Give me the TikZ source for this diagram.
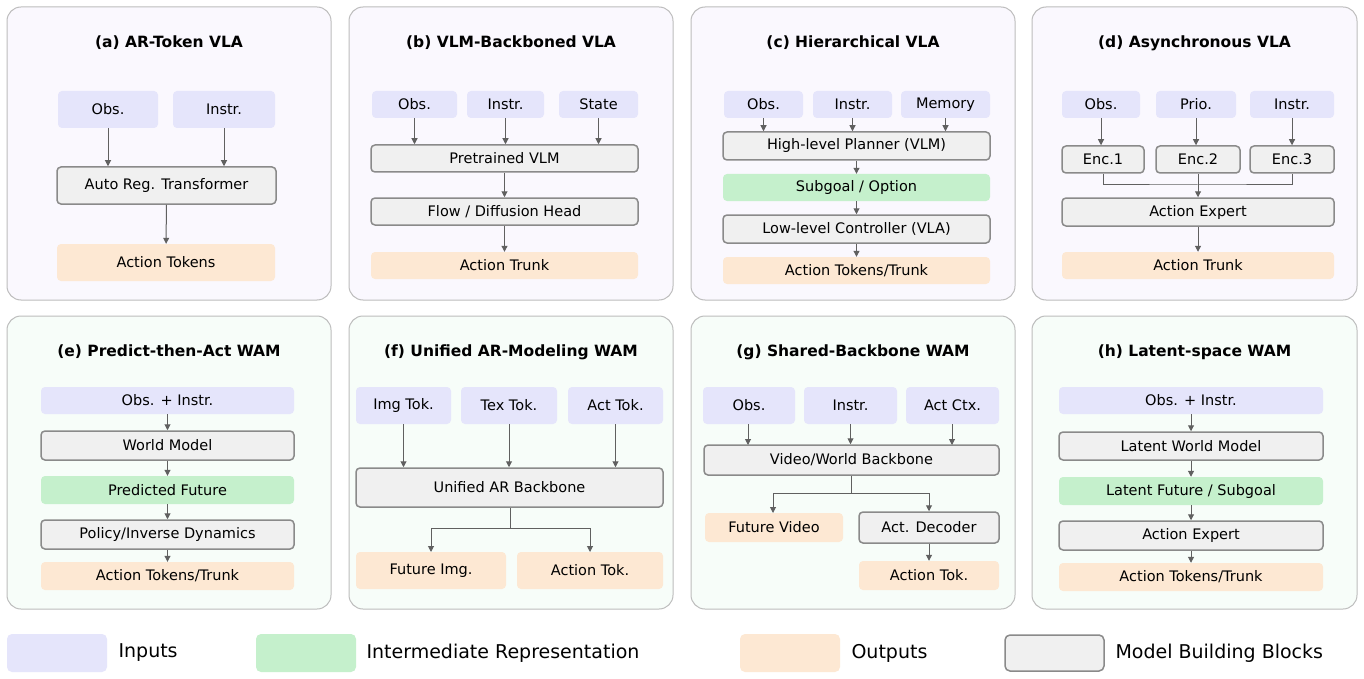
\documentclass[tikz,border=0pt]{standalone}
\usepackage{fontspec}
\setmainfont{DejaVu Sans}
\usetikzlibrary{arrows.meta}
\definecolor{inpc}{HTML}{E5E5FB}
\definecolor{midc}{HTML}{C5F0CC}
\definecolor{outc}{HTML}{FDE8D3}
\definecolor{blkc}{HTML}{F0F0F0}
\definecolor{blkd}{HTML}{8A8A8A}
\definecolor{vlac}{HTML}{FAF8FE}
\definecolor{wamc}{HTML}{F7FDF9}
\definecolor{panb}{HTML}{BDBDBD}
\definecolor{arrc}{HTML}{606060}
\tikzset{
  inp/.style={fill=inpc},
  mid/.style={fill=midc},
  outp/.style={fill=outc},
  blk/.style={fill=blkc,draw=blkd,line width=1.5pt},
  arr/.style={draw=arrc,line width=1pt,-{Triangle[length=6pt,width=6pt]}},
  lin/.style={draw=arrc,line width=1pt},
  ttl/.style={font=\fontsize{15.5}{18}\selectfont\bfseries},
}
% box from corner to corner, in pixels
\newcommand\blkbox[7]{\node[#2,rounded corners=4pt,inner sep=0pt,
  minimum width={(#5-#3)*1pt},minimum height={(#6-#4)*1pt},
  font=\fontsize{14.5}{17}\selectfont] (#1) at ({(#3+#5)/2},{(#4+#6)/2}) {#7};}
\newcommand\panel[6]{\draw[draw=panb,fill=#5,line width=1pt,rounded corners=14pt] (#1,#2) rectangle (#3,#4);
  \node[ttl] at ({(#1+#3)/2},{#2+36}) {#6};}
\begin{document}
\begin{tikzpicture}[x=1pt,y=-1pt]
\useasboundingbox[fill=white] (0,0) rectangle (1364,679);

% panels
\panel{7}{7}{331}{300}{vlac}{(a) AR-Token VLA}
\panel{349}{7}{673}{300}{vlac}{(b) VLM-Backboned VLA}
\panel{691}{7}{1015}{300}{vlac}{(c) Hierarchical VLA}
\panel{1032}{7}{1357}{300}{vlac}{(d) Asynchronous VLA}
\panel{7}{316}{331}{609}{wamc}{(e) Predict-then-Act WAM}
\panel{349}{316}{673}{609}{wamc}{(f) Unified AR-Modeling WAM}
\panel{691}{316}{1015}{609}{wamc}{(g) Shared-Backbone WAM}
\panel{1032}{316}{1357}{609}{wamc}{(h) Latent-space WAM}

% (a)
\blkbox{aobs}{inp}{58}{91}{158}{128}{Obs.}
\blkbox{ains}{inp}{173}{91}{275}{128}{Instr.}
\blkbox{atr}{blk}{57}{167}{276}{204}{Auto Reg. Transformer}
\blkbox{atok}{outp}{57}{244}{275}{281}{Action Tokens}
\draw[arr] (aobs) -- (aobs |- atr.north);
\draw[arr] (ains) -- (ains |- atr.north);
\draw[arr] (atr) -- (atok);

% (b)
\blkbox{bobs}{inp}{372}{91}{457}{118}{Obs.}
\blkbox{bins}{inp}{467}{91}{544}{118}{Instr.}
\blkbox{bsta}{inp}{559}{91}{638}{118}{State}
\blkbox{bvlm}{blk}{371}{145}{638}{172}{Pretrained VLM}
\blkbox{bhead}{blk}{371}{198}{638}{225}{Flow / Diffusion Head}
\blkbox{btrk}{outp}{371}{252}{638}{279}{Action Trunk}
\foreach \n in {bobs,bins,bsta} \draw[arr] (\n) -- (\n |- bvlm.north);
\draw[arr] (bvlm) -- (bhead);
\draw[arr] (bhead) -- (btrk);

% (c)
\blkbox{cobs}{inp}{724}{91}{803}{118}{Obs.}
\blkbox{cins}{inp}{813}{91}{892}{118}{Instr.}
\blkbox{cmem}{inp}{901}{91}{990}{118}{Memory}
\blkbox{cplan}{blk}{723}{132}{990}{160}{High-level Planner (VLM)}
\blkbox{csub}{mid}{723}{174}{990}{201}{Subgoal / Option}
\blkbox{cctl}{blk}{723}{215}{990}{243}{Low-level Controller (VLA)}
\blkbox{ctok}{outp}{723}{257}{990}{284}{Action Tokens/Trunk}
\foreach \n in {cobs,cins,cmem} \draw[arr] (\n) -- (\n |- cplan.north);
\draw[arr] (cplan) -- (csub);
\draw[arr] (csub) -- (cctl);
\draw[arr] (cctl) -- (ctok);

% (d)
\blkbox{dobs}{inp}{1062}{91}{1140}{118}{Obs.}
\blkbox{dpri}{inp}{1156}{91}{1236}{118}{Prio.}
\blkbox{dins}{inp}{1250}{91}{1334}{118}{Instr.}
\blkbox{denca}{blk}{1062}{146}{1144}{173}{Enc.1}
\blkbox{dencb}{blk}{1156}{146}{1240}{173}{Enc.2}
\blkbox{dencc}{blk}{1250}{146}{1334}{173}{Enc.3}
\blkbox{dexp}{blk}{1062}{198}{1334}{226}{Action Expert}
\blkbox{dtrk}{outp}{1062}{252}{1334}{279}{Action Trunk}
\draw[arr] (dobs) -- (dobs |- denca.north);
\draw[arr] (dpri) -- (dpri |- dencb.north);
\draw[arr] (dins) -- (dins |- dencc.north);
\coordinate (dj) at (1198,185);
\draw[lin] (denca.south) |- (dj) -| (dencc.south);
\draw[lin] (dencb.south) -- (dencb.south |- dj);
\draw[arr] (dj) -- (dj |- dexp.north);
\draw[arr] (dexp) -- (dtrk);

% (e)
\blkbox{eobs}{inp}{41}{387}{294}{414}{Obs. + Instr.}
\blkbox{ewm}{blk}{41}{431}{294}{460}{World Model}
\blkbox{efut}{mid}{41}{476}{294}{504}{Predicted Future}
\blkbox{epol}{blk}{41}{520}{294}{549}{Policy/Inverse Dynamics}
\blkbox{etok}{outp}{41}{562}{294}{590}{Action Tokens/Trunk}
\draw[arr] (eobs) -- (ewm);
\draw[arr] (ewm) -- (efut);
\draw[arr] (efut) -- (epol);
\draw[arr] (epol) -- (etok);

% (f)
\blkbox{fimg}{inp}{356}{387}{451}{424}{Img Tok.}
\blkbox{ftex}{inp}{461}{387}{557}{424}{Tex Tok.}
\blkbox{fact}{inp}{568}{387}{663}{424}{Act Tok.}
\blkbox{fbb}{blk}{356}{468}{663}{507}{Unified AR Backbone}
\blkbox{ffut}{outp}{356}{552}{506}{589}{Future Img.}
\blkbox{ftok}{outp}{517}{552}{663}{589}{Action Tok.}
\foreach \n in {fimg,ftex,fact} \draw[arr] (\n) -- (\n |- fbb.north);
\coordinate (fj) at (510,528);
\draw[lin] (fbb.south -| fj) -- (fj);
\draw[arr] (fj) -| (431,552);
\draw[arr] (fj) -| (590,552);

% (g)
\blkbox{gobs}{inp}{703}{387}{795}{424}{Obs.}
\blkbox{gins}{inp}{804}{387}{897}{424}{Instr.}
\blkbox{gctx}{inp}{906}{387}{999}{424}{Act Ctx.}
\blkbox{gbb}{blk}{704}{445}{999}{475}{Video/World Backbone}
\blkbox{gvid}{outp}{705}{513}{843}{542}{Future Video}
\blkbox{gdec}{blk}{859}{512}{999}{543}{Act. Decoder}
\blkbox{gtok}{outp}{859}{561}{999}{590}{Action Tok.}
\draw[arr] (748,424) -- (748,445);
\draw[arr] (gins) -- (gins |- gbb.north);
\draw[arr] (952,424) -- (952,445);
\coordinate (gj) at (851,493);
\draw[lin] (gbb.south -| gj) -- (gj);
\draw[arr] (gj) -| (773,513);
\draw[arr] (gj) -| (gdec.north);
\draw[arr] (gdec) -- (gtok);

% (h)
\blkbox{hobs}{inp}{1059}{387}{1323}{414}{Obs. + Instr.}
\blkbox{hwm}{blk}{1059}{432}{1323}{460}{Latent World Model}
\blkbox{hfut}{mid}{1059}{477}{1323}{505}{Latent Future / Subgoal}
\blkbox{hexp}{blk}{1059}{521}{1323}{550}{Action Expert}
\blkbox{htok}{outp}{1059}{563}{1323}{591}{Action Tokens/Trunk}
\draw[arr] (hobs) -- (hwm);
\draw[arr] (hwm) -- (hfut);
\draw[arr] (hfut) -- (hexp);
\draw[arr] (hexp) -- (htok);

% legend
\tikzset{lgt/.style={anchor=west,font=\fontsize{19}{22}\selectfont}}
\fill[inpc,rounded corners=5pt] (7,634) rectangle (107,672);
\node[lgt] at (115,653) {Inputs};
\fill[midc,rounded corners=5pt] (256,634) rectangle (356,672);
\node[lgt] at (363,653) {Intermediate Representation};
\fill[outc,rounded corners=5pt] (740,634) rectangle (840,672);
\node[lgt] at (848,653) {Outputs};
\draw[blk,rounded corners=5pt] (1005,635) rectangle (1104,671);
\node[lgt] at (1112,653) {Model Building Blocks};
\end{tikzpicture}
\end{document}
